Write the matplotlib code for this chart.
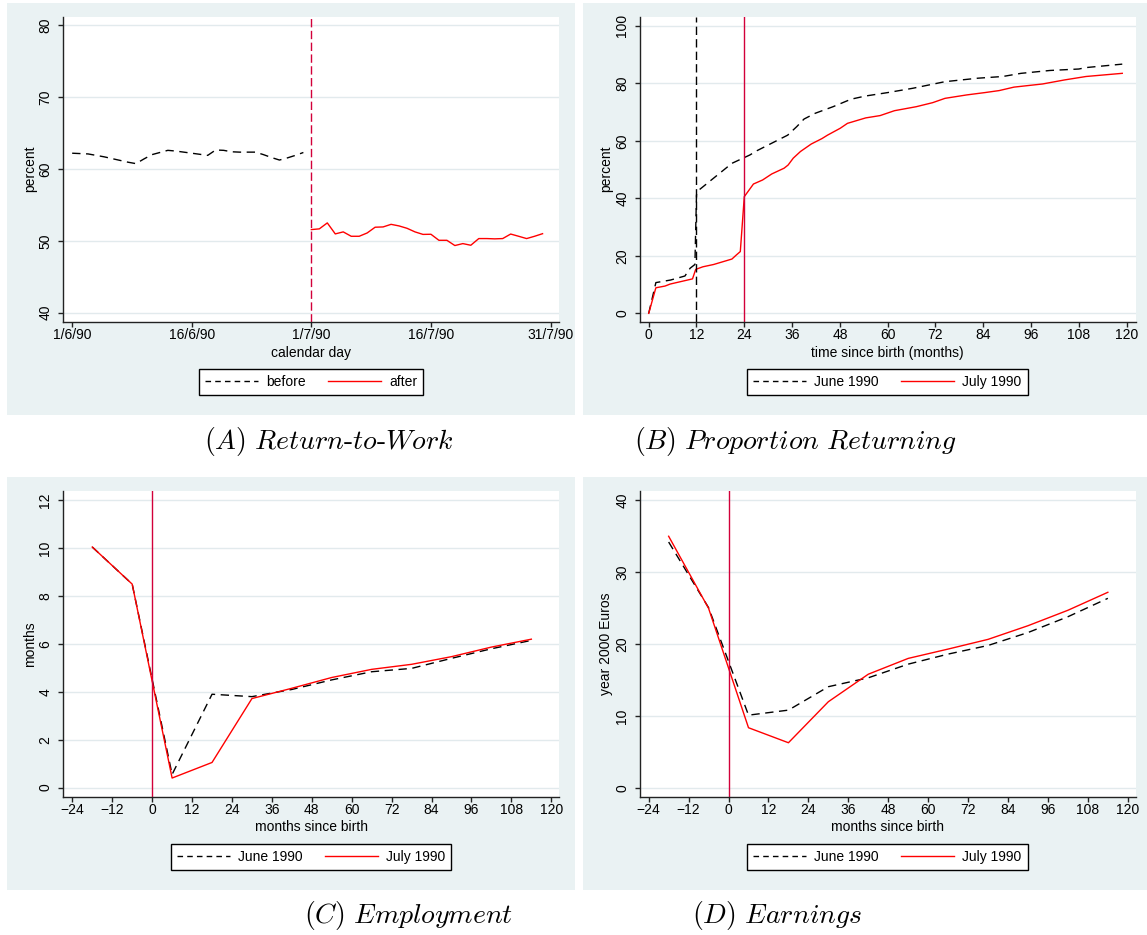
import matplotlib

matplotlib.use("Agg")
import matplotlib.pyplot as plt
from matplotlib.lines import Line2D
from matplotlib.patches import Rectangle

# (A) return-to-work rate by calendar day of birth (days since 1 June 1990)
days_before = list(range(0, 30))
rtw_before = [62.2, 62.15, 62.1, 61.9, 61.7, 61.45, 61.2, 60.95, 60.75, 61.4,
              62.0, 62.3, 62.6, 62.5, 62.35, 62.2, 62.05, 61.9, 62.65, 62.6,
              62.4, 62.35, 62.35, 62.35, 62.0, 61.6, 61.25, 61.55, 61.9, 62.3]
days_after = list(range(30, 60))
rtw_after = [51.57, 51.67, 52.5, 50.97, 51.25, 50.64, 50.64, 51.1, 51.9, 51.94,
             52.3, 52.08, 51.75, 51.25, 50.9, 50.92, 50.08, 50.08, 49.35, 49.62,
             49.39, 50.32, 50.32, 50.28, 50.32, 50.95, 50.64, 50.32, 50.64, 51.0]
date_ticks = [0, 15, 30, 45, 60]
date_labels = ["1/6/90", "16/6/90", "1/7/90", "16/7/90", "31/7/90"]
cutoff_day = 30

# (B) cumulative share returned to work
months_june = [0, 1.8, 5.5, 9.1, 10.4, 11.6, 12.0, 12.7, 20.9, 25.4, 27.2, 34.9,
               37.2, 39.0, 41.8, 46.3, 50.8, 54.4, 60.0, 66.3, 74.4, 82.6, 88.9,
               93.5, 100.8, 108.0, 109.8, 118.9]
share_june = [0, 10.7, 11.6, 13.0, 15.7, 17.0, 41.2, 43.0, 52.2, 55.1, 56.6, 62.0,
              65.0, 67.6, 69.6, 71.9, 74.5, 75.6, 76.8, 78.3, 80.6, 81.8, 82.4,
              83.5, 84.5, 85.0, 85.5, 86.7]
months_july = [0, 1.8, 4.1, 5.4, 10.4, 11.0, 11.8, 13.6, 16.3, 20.9, 22.0, 23.0,
               24.0, 26.3, 28.6, 30.9, 34.0, 35.0, 36.3, 38.1, 40.8, 43.5, 44.9,
               48.1, 49.9, 54.5, 58.1, 61.7, 67.2, 71.3, 74.4, 79.9, 84.4, 88.0,
               91.7, 98.9, 104.4, 109.8, 118.9]
share_july = [0, 8.9, 9.5, 10.2, 11.8, 12.0, 15.3, 16.2, 17.0, 18.9, 20.3, 21.5,
              40.6, 45.0, 46.4, 48.5, 50.5, 51.6, 54.0, 56.3, 58.9, 60.8, 62.0,
              64.4, 66.1, 68.0, 68.8, 70.5, 71.9, 73.3, 74.8, 76.0, 76.8, 77.5,
              78.7, 79.8, 81.2, 82.4, 83.5]
leave_end_june = 12
leave_end_july = 24

# (C)/(D) yearly averages around birth
event_months = [-18, -6, 6, 18, 30, 42, 54, 66, 78, 90, 102, 114]
emp_june = [10.05, 8.5, 0.55, 3.9, 3.8, 4.1, 4.5, 4.84, 4.98, 5.4, 5.8, 6.15]
emp_july = [10.05, 8.5, 0.4, 1.05, 3.72, 4.15, 4.6, 4.94, 5.15, 5.47, 5.87, 6.2]
earn_june = [34.2, 25.06, 10.1, 10.8, 14.06, 15.3, 17.2, 18.6, 19.8, 21.6, 23.8, 26.36]
earn_july = [35.0, 24.97, 8.35, 6.26, 11.97, 15.8, 18.0, 19.3, 20.65, 22.55, 24.7, 27.2]

BG = "#eaf2f3"
GRID = "#e2eaed"
RED = "#ff0000"
CRANBERRY = "#d2003a"
W, H = 1147, 935

plt.rcParams["font.family"] = ["Liberation Sans", "DejaVu Sans"]
plt.rcParams["mathtext.fontset"] = "cm"
plt.rcParams["font.size"] = 10


def fbox(x0, y0, x1, y1):
    # pixel box (top-left origin) -> figure fractions
    return [x0 / W, 1 - y1 / H, (x1 - x0) / W, (y1 - y0) / H]


def style_axes(ax, xlim, ylim, xticks, yticks, xlabel, ylabel, xlab_y):
    ax.set_xlim(*xlim)
    ax.set_ylim(*ylim)
    ax.set_xticks(xticks)
    ax.set_yticks(yticks)
    for s in ("top", "right"):
        ax.spines[s].set_visible(False)
    for s in ("left", "bottom"):
        ax.spines[s].set_linewidth(1.0)
        ax.spines[s].set_color("#222222")
    ax.tick_params(length=3.6, width=1.0, color="#222222", labelsize=10, pad=1)
    ax.tick_params(axis="y", labelrotation=90, pad=4)
    for lab in ax.get_yticklabels():
        lab.set_va("center")
    ax.grid(axis="y", color=GRID, linewidth=1.0)
    ax.set_axisbelow(True)
    ax.set_xlabel(xlabel, fontsize=10, va="center")
    ax.set_ylabel(ylabel, fontsize=10, va="center")
    ax.xaxis.set_label_coords(0.5, xlab_y)
    ax.yaxis.set_label_coords(-0.067, 0.5)


def add_legend(cx, cy, labels):
    handles = [
        Line2D([], [], color="black", lw=1.0, linestyle=(0, (4, 3))),
        Line2D([], [], color=RED, lw=1.0),
    ]
    leg = fig.legend(handles, labels, loc="center", bbox_to_anchor=(cx / W, 1 - cy / H),
                     ncol=2, frameon=True, fancybox=False, edgecolor="black",
                     handlelength=3.8, handletextpad=0.6, columnspacing=1.6,
                     borderpad=0.45, fontsize=10)
    leg.get_frame().set_linewidth(1.0)
    leg.get_frame().set_facecolor("white")
    leg.get_frame().set_alpha(None)


def caption(cx, cy, text):
    fig.text(cx / W, 1 - cy / H, text, ha="center", va="center",
             fontsize=20, fontfamily="cmr10")


fig = plt.figure(figsize=(W / 100, H / 100), dpi=100)
for x0, y0, x1, y1 in [(7, 3, 575, 415), (583, 3, 1147, 415),
                       (7, 477, 575, 890), (583, 477, 1147, 890)]:
    fig.patches.append(Rectangle((x0 / W, 1 - y1 / H), (x1 - x0) / W, (y1 - y0) / H,
                                 transform=fig.transFigure, facecolor=BG,
                                 edgecolor="none", zorder=-5))

dash = (0, (6, 4))

# (A)
ax = fig.add_axes(fbox(63, 16.7, 559.3, 321.7))
ax.plot(days_before, rtw_before, color="black", lw=1.0, linestyle=dash)
ax.plot(days_after, rtw_after, color=RED, lw=1.0)
ax.axvline(cutoff_day, color=CRANBERRY, lw=1.0, linestyle=(0, (6, 2.5)))
style_axes(ax, (-1.15, 61.1), (38.75, 81.2), date_ticks, [40, 50, 60, 70, 80],
           "calendar day", "percent", -0.102)
ax.set_xticklabels(date_labels)
add_legend(311, 382, ["before", "after"])
caption(328.5, 441, r"$\mathit{(A)\ Return}$-$\mathit{to}$-$\mathit{Work}$")

# (B)
ax = fig.add_axes(fbox(639.7, 16.7, 1135.8, 321.7))
ax.plot(months_june, share_june, color="black", lw=1.0, linestyle=dash)
ax.plot(months_july, share_july, color=RED, lw=1.0)
ax.axvline(leave_end_june, color="black", lw=1.0, linestyle=(0, (6, 3)))
ax.axvline(leave_end_july, color=CRANBERRY, lw=1.0)
style_axes(ax, (-2.26, 122.3), (-2.9, 103.2), list(range(0, 121, 12)),
           [0, 20, 40, 60, 80, 100], "time since birth (months)", "percent", -0.102)
add_legend(887.5, 382, ["June 1990", "July 1990"])
caption(795, 441, r"$\mathit{(B)\ Proportion\ Returning}$")

# (C)
ax = fig.add_axes(fbox(63, 491, 559.3, 796.7))
ax.plot(event_months, emp_june, color="black", lw=1.0, linestyle=dash)
ax.plot(event_months, emp_july, color=RED, lw=1.0)
ax.axvline(0, color=CRANBERRY, lw=1.0)
style_axes(ax, (-26.8, 122.4), (-0.38, 12.39), list(range(-24, 121, 12)),
           list(range(0, 13, 2)), "months since birth", "months", -0.098)
add_legend(311, 857, ["June 1990", "July 1990"])
caption(408, 916, r"$\mathit{(C)\ Employment}$")

# (D)
ax = fig.add_axes(fbox(639.7, 491, 1135.8, 796.7))
ax.plot(event_months, earn_june, color="black", lw=1.0, linestyle=dash)
ax.plot(event_months, earn_july, color=RED, lw=1.0)
ax.axvline(0, color=CRANBERRY, lw=1.0)
style_axes(ax, (-26.7, 122.4), (-1.25, 41.3), list(range(-24, 121, 12)),
           [0, 10, 20, 30, 40], "months since birth", "year 2000 Euros", -0.098)
add_legend(887.5, 857, ["June 1990", "July 1990"])
caption(777, 916, r"$\mathit{(D)\ Earnings}$")

fig.savefig("out.png", dpi=100, facecolor="white")
